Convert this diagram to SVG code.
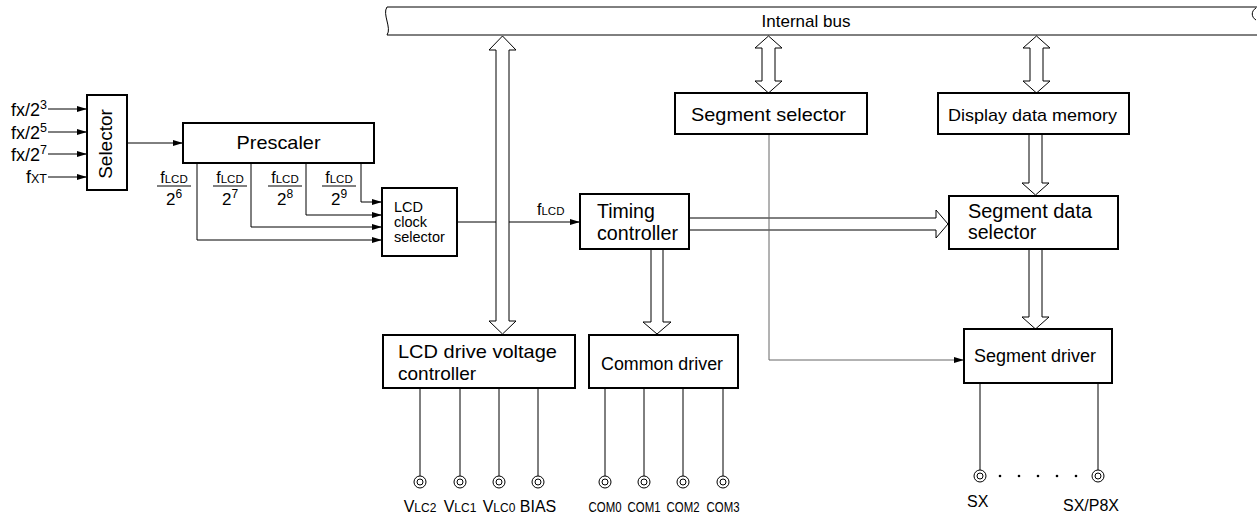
<svg xmlns="http://www.w3.org/2000/svg" width="1257" height="516" viewBox="0 0 1257 516">
<style>
text{font-family:"Liberation Sans",Arial,sans-serif;fill:#000}
.box{fill:#fff;stroke:#000;stroke-width:2}
.ln{fill:none;stroke:#000;stroke-width:1}
.fat{fill:#fff;stroke:#000;stroke-width:1;stroke-linejoin:miter}
.pin{fill:#fff;stroke:#000;stroke-width:1}
.pl{font-size:16px}
.com{font-size:14.5px}
</style>
<defs>
<marker id="ah" viewBox="0 0 10 6" refX="10" refY="3" markerWidth="10" markerHeight="6" markerUnits="userSpaceOnUse" orient="auto">
<path d="M0,0 L10,3 L0,6 Z" fill="#000"/>
</marker>
</defs>

<g id="internal-bus">
<path class="ln" d="M387,7 H1257 M387,35 H1257 M387,7 C382,14 392,28 387,35 M1256,8 C1251,11 1251,17 1256,20"/>
<text x="806" y="27" font-size="17" text-anchor="middle">Internal bus</text>
</g>

<g id="connectors">
<path class="ln" d="M48,109 H87" marker-end="url(#ah)"/>
<path class="ln" d="M48,132 H87" marker-end="url(#ah)"/>
<path class="ln" d="M48,154 H87" marker-end="url(#ah)"/>
<path class="ln" d="M48,177 H87" marker-end="url(#ah)"/>
<path class="ln" d="M127,143 H183" marker-end="url(#ah)"/>
<path class="ln" d="M361,163 V202 H382" marker-end="url(#ah)"/>
<path class="ln" d="M306,163 V215 H382" marker-end="url(#ah)"/>
<path class="ln" d="M251,163 V227 H382" marker-end="url(#ah)"/>
<path class="ln" d="M197,163 V240 H382" marker-end="url(#ah)"/>
<path class="ln" d="M457,222 H580" marker-end="url(#ah)"/>
<polygon class="fat" points="502.5,36 516,50 509,50 509,321 516,321 502.5,334 489,321 496,321 496,50 489,50"/>
<polygon class="fat" points="768.5,36 782,48 775,48 775,81 782,81 768.5,93 755,81 762,81 762,48 755,48"/>
<polygon class="fat" points="1036.5,36 1050,48 1043,48 1043,81 1050,81 1036.5,93 1023,81 1030,81 1030,48 1023,48"/>
<polygon class="fat" points="651,249 663,249 663,322 671,322 657,334 643,322 651,322"/>
<polygon class="fat" points="1029,134 1042,134 1042,183 1049,183 1035.5,195 1022,183 1029,183"/>
<polygon class="fat" points="1029,249 1042,249 1042,317 1049,317 1035.5,329 1022,317 1029,317"/>
<polygon class="fat" points="689,218 936,218 936,210 948,224 936,238 936,230 689,230"/>
<path d="M769,134 V360 H964" fill="none" stroke="#666" stroke-width="1" marker-end="url(#ah)"/>
<path class="ln" d="M420,388 V476 M460,388 V476 M499,388 V476 M538,388 V476"/>
<path class="ln" d="M605,388 V476 M644,388 V476 M683,388 V476 M723,388 V476"/>
<path class="ln" d="M980,383 V470 M1098,383 V470"/>
</g>

<g id="inputs">
<text x="47" y="116" font-size="18" text-anchor="end">fx/2<tspan dy="-7" font-size="12.5">3</tspan></text>
<text x="47" y="139" font-size="18" text-anchor="end">fx/2<tspan dy="-7" font-size="12.5">5</tspan></text>
<text x="47" y="161" font-size="18" text-anchor="end">fx/2<tspan dy="-7" font-size="12.5">7</tspan></text>
<text x="47" y="183" font-size="18" text-anchor="end">f<tspan font-size="12.5">XT</tspan></text>
</g>

<g id="selector">
<rect class="box" x="87" y="95" width="40" height="95"/>
<text transform="translate(112,144) rotate(-90)" font-size="19" text-anchor="middle">Selector</text>
</g>

<g id="prescaler">
<rect class="box" x="183" y="123" width="191" height="40"/>
<text x="278.5" y="149" font-size="19" text-anchor="middle" textLength="84" lengthAdjust="spacingAndGlyphs">Prescaler</text>
</g>

<g id="prescaler-labels">
<text x="174" y="183" font-size="16" text-anchor="middle">f<tspan font-size="11.5">LCD</tspan></text>
<path class="ln" d="M157,186 H191"/>
<text x="174" y="205" font-size="17" text-anchor="middle">2<tspan dy="-7" font-size="12">6</tspan></text>
<text x="230" y="183" font-size="16" text-anchor="middle">f<tspan font-size="11.5">LCD</tspan></text>
<path class="ln" d="M213,186 H247"/>
<text x="230" y="205" font-size="17" text-anchor="middle">2<tspan dy="-7" font-size="12">7</tspan></text>
<text x="285" y="183" font-size="16" text-anchor="middle">f<tspan font-size="11.5">LCD</tspan></text>
<path class="ln" d="M268,186 H302"/>
<text x="285" y="205" font-size="17" text-anchor="middle">2<tspan dy="-7" font-size="12">8</tspan></text>
<text x="339" y="183" font-size="16" text-anchor="middle">f<tspan font-size="11.5">LCD</tspan></text>
<path class="ln" d="M322,186 H356"/>
<text x="339" y="205" font-size="17" text-anchor="middle">2<tspan dy="-7" font-size="12">9</tspan></text>
</g>

<g id="lcd-clock-selector">
<rect class="box" x="382" y="188" width="75" height="68"/>
<text x="394" y="212" font-size="14.5">LCD</text>
<text x="394" y="227" font-size="14.5">clock</text>
<text x="394" y="242" font-size="14.5">selector</text>
</g>

<g id="flcd-label">
<text x="537" y="215" font-size="16">f<tspan font-size="11.5">LCD</tspan></text>
</g>

<g id="timing-controller">
<rect class="box" x="580" y="194" width="109" height="55"/>
<text x="597" y="218" font-size="19.5">Timing</text>
<text x="597" y="240" font-size="19.5" textLength="81" lengthAdjust="spacingAndGlyphs">controller</text>
</g>

<g id="segment-selector">
<rect class="box" x="675" y="93" width="192" height="41"/>
<text x="691" y="121" font-size="18.5" textLength="155" lengthAdjust="spacingAndGlyphs">Segment selector</text>
</g>

<g id="display-data-memory">
<rect class="box" x="938" y="93" width="191" height="41"/>
<text x="948" y="121" font-size="17" textLength="169" lengthAdjust="spacingAndGlyphs">Display data memory</text>
</g>

<g id="segment-data-selector">
<rect class="box" x="949" y="196" width="169" height="53"/>
<text x="968" y="218" font-size="19.5" textLength="124" lengthAdjust="spacingAndGlyphs">Segment data</text>
<text x="968" y="239" font-size="19.5">selector</text>
</g>

<g id="lcd-drive-voltage-controller">
<rect class="box" x="383" y="335" width="192" height="53"/>
<text x="398" y="358" font-size="19" textLength="159" lengthAdjust="spacingAndGlyphs">LCD drive voltage</text>
<text x="398" y="380" font-size="19">controller</text>
</g>

<g id="common-driver">
<rect class="box" x="589" y="335" width="149" height="53"/>
<text x="601" y="370" font-size="18" textLength="122" lengthAdjust="spacingAndGlyphs">Common driver</text>
</g>

<g id="segment-driver">
<rect class="box" x="964" y="329" width="148" height="54"/>
<text x="974" y="362" font-size="18" textLength="122" lengthAdjust="spacingAndGlyphs">Segment driver</text>
</g>

<g id="pins">
<circle class="pin" cx="420" cy="482" r="6"/><circle class="pin" cx="420" cy="482" r="3"/>
<circle class="pin" cx="460" cy="482" r="6"/><circle class="pin" cx="460" cy="482" r="3"/>
<circle class="pin" cx="499" cy="482" r="6"/><circle class="pin" cx="499" cy="482" r="3"/>
<circle class="pin" cx="538" cy="482" r="6"/><circle class="pin" cx="538" cy="482" r="3"/>
<circle class="pin" cx="605" cy="482" r="6"/><circle class="pin" cx="605" cy="482" r="3"/>
<circle class="pin" cx="644" cy="482" r="6"/><circle class="pin" cx="644" cy="482" r="3"/>
<circle class="pin" cx="683" cy="482" r="6"/><circle class="pin" cx="683" cy="482" r="3"/>
<circle class="pin" cx="723" cy="482" r="6"/><circle class="pin" cx="723" cy="482" r="3"/>
<circle class="pin" cx="980" cy="476" r="6"/><circle class="pin" cx="980" cy="476" r="3"/>
<circle class="pin" cx="1098" cy="476" r="6"/><circle class="pin" cx="1098" cy="476" r="3"/>
<circle cx="1000" cy="476" r="1.3"/><circle cx="1019" cy="476" r="1.3"/><circle cx="1038" cy="476" r="1.3"/><circle cx="1057" cy="476" r="1.3"/><circle cx="1076" cy="476" r="1.3"/>
</g>

<g id="pin-labels">
<text x="420" y="512" class="pl" text-anchor="middle">V<tspan font-size="12">LC2</tspan></text>
<text x="460" y="512" class="pl" text-anchor="middle">V<tspan font-size="12">LC1</tspan></text>
<text x="499" y="512" class="pl" text-anchor="middle">V<tspan font-size="12">LC0</tspan></text>
<text x="538" y="512" class="pl" text-anchor="middle">BIAS</text>
<text x="605" y="512" class="com" text-anchor="middle" textLength="33" lengthAdjust="spacingAndGlyphs">COM0</text>
<text x="644" y="512" class="com" text-anchor="middle" textLength="33" lengthAdjust="spacingAndGlyphs">COM1</text>
<text x="683" y="512" class="com" text-anchor="middle" textLength="33" lengthAdjust="spacingAndGlyphs">COM2</text>
<text x="723" y="512" class="com" text-anchor="middle" textLength="33" lengthAdjust="spacingAndGlyphs">COM3</text>
<text x="967" y="507" class="pl">SX</text>
<text x="1063" y="511" class="pl">SX/P8X</text>
</g>
</svg>
